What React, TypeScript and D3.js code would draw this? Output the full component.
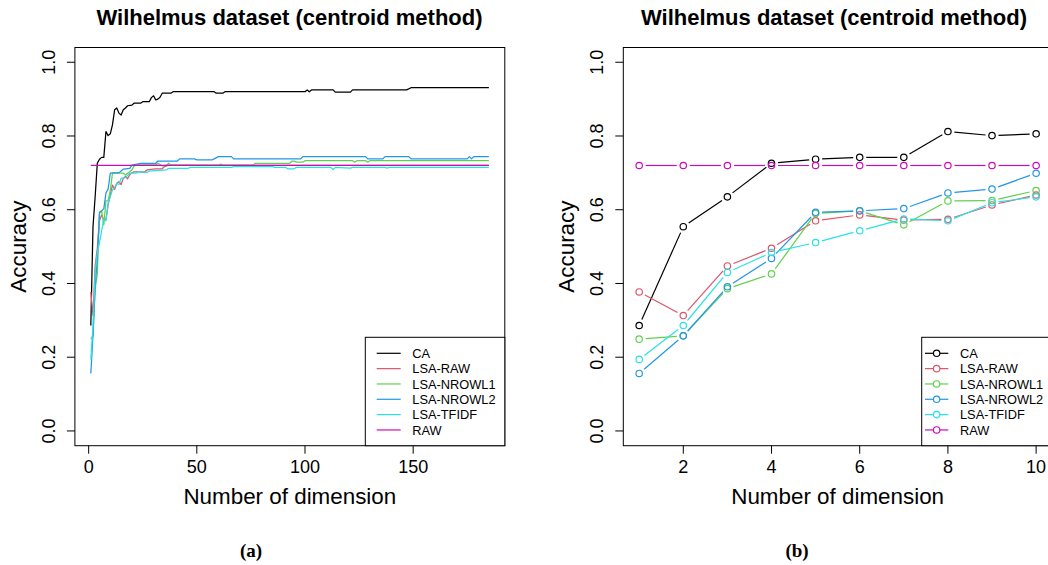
import React from "react";
import * as d3 from "d3";

const FONT = "'Liberation Sans', Arial, Helvetica, sans-serif";
const SERIF = "'Liberation Serif', 'DejaVu Serif', serif";

const TITLE = "Wilhelmus dataset (centroid method)";
const X_LABEL = "Number of dimension";
const Y_LABEL = "Accuracy";

const SERIES_NAMES = ["CA", "LSA-RAW", "LSA-NROWL1", "LSA-NROWL2", "LSA-TFIDF", "RAW"];
const COLORS = ["#000000", "#DF536B", "#61D04F", "#2297E6", "#28E2E5", "#CD0BBC"];

const Y_TICKS = [0, 0.2, 0.4, 0.6, 0.8, 1.0];
const X_TICKS_A = [0, 50, 100, 150];
const X_TICKS_B = [2, 4, 6, 8, 10];

// ---- panel (b): dimensions 1..10
const DIMS_B = [1, 2, 3, 4, 5, 6, 7, 8, 9, 10];
const CA_B = [0.286, 0.554, 0.635, 0.726, 0.737, 0.742, 0.742, 0.812, 0.801, 0.806];
const LSA_RAW_B = [0.377, 0.313, 0.4475, 0.4955, 0.57, 0.586, 0.572, 0.574, 0.613, 0.64];
const LSA_NROWL1_B = [0.249, 0.258, 0.386, 0.426, 0.59, 0.597, 0.559, 0.624, 0.625, 0.652];
const LSA_NROWL2_B = [0.156, 0.258, 0.391, 0.468, 0.593, 0.597, 0.603, 0.6455, 0.656, 0.699];
const LSA_TFIDF_B = [0.194, 0.286, 0.43, 0.484, 0.511, 0.543, 0.575, 0.57, 0.619, 0.635];
const RAW_B = [0.72, 0.72, 0.72, 0.72, 0.72, 0.72, 0.72, 0.72, 0.72, 0.72];

// ---- panel (a): dimensions 1..185, [dimension, accuracy] read where the curve changes
const CA_A: [number, number][] = [
  [1, 0.286], [2, 0.554], [3, 0.635], [4, 0.726], [5, 0.737], [6, 0.742], [7, 0.742], [8, 0.812],
  [9, 0.801], [10, 0.806], [11, 0.83], [12, 0.871], [13, 0.876], [14, 0.862], [15, 0.857], [16, 0.871],
  [17, 0.876], [18, 0.882], [20, 0.884], [21, 0.889], [24, 0.889], [25, 0.893], [28, 0.893], [29, 0.904],
  [30, 0.909], [31, 0.898], [32, 0.9], [33, 0.905], [34, 0.916], [38, 0.916], [39, 0.92], [58, 0.92],
  [59, 0.916], [62, 0.916], [63, 0.92], [100, 0.92], [101, 0.925], [102, 0.92], [103, 0.925], [113, 0.925],
  [114, 0.919], [121, 0.919], [122, 0.925], [147, 0.925], [149, 0.931], [185, 0.931],
];
const LSA_RAW_A: [number, number][] = [
  [1, 0.377], [2, 0.313], [3, 0.4475], [4, 0.4955], [5, 0.57], [6, 0.586], [7, 0.572], [8, 0.574],
  [9, 0.613], [10, 0.64], [11, 0.667], [12, 0.655], [13, 0.672], [14, 0.676], [15, 0.668], [16, 0.685],
  [17, 0.69], [18, 0.684], [19, 0.695], [20, 0.7], [21, 0.703], [26, 0.703], [27, 0.708], [31, 0.711],
  [34, 0.711], [35, 0.717], [37, 0.721], [57, 0.72], [185, 0.72],
];
const LSA_NROWL1_A: [number, number][] = [
  [1, 0.249], [2, 0.258], [3, 0.386], [4, 0.426], [5, 0.59], [6, 0.597], [7, 0.559], [8, 0.624],
  [9, 0.625], [10, 0.652], [11, 0.699], [16, 0.699], [17, 0.694], [18, 0.699], [20, 0.708], [21, 0.719],
  [23, 0.7214], [31, 0.7214], [32, 0.726], [34, 0.719], [36, 0.721], [37, 0.726], [38, 0.721], [60, 0.721],
  [61, 0.724], [62, 0.721], [76, 0.721], [77, 0.726], [93, 0.726], [94, 0.732], [95, 0.732], [96, 0.729],
  [99, 0.729], [100, 0.733], [122, 0.733], [123, 0.729], [124, 0.733], [128, 0.733], [129, 0.729], [130, 0.733],
  [185, 0.733],
];
const LSA_NROWL2_A: [number, number][] = [
  [1, 0.156], [2, 0.258], [3, 0.391], [4, 0.468], [5, 0.593], [6, 0.597], [7, 0.603], [8, 0.6455],
  [9, 0.656], [10, 0.699], [11, 0.7], [14, 0.7], [15, 0.705], [16, 0.71], [19, 0.712], [20, 0.721],
  [24, 0.726], [31, 0.726], [32, 0.732], [41, 0.732], [42, 0.738], [49, 0.738], [50, 0.735], [57, 0.735],
  [58, 0.738], [60, 0.744], [66, 0.744], [67, 0.738], [98, 0.738], [99, 0.744], [128, 0.744], [129, 0.738],
  [136, 0.738], [137, 0.744], [148, 0.744], [149, 0.738], [175, 0.738], [176, 0.744], [177, 0.738], [178, 0.744],
  [185, 0.744],
];
const LSA_TFIDF_A: [number, number][] = [
  [1, 0.194], [2, 0.286], [3, 0.43], [4, 0.484], [5, 0.511], [6, 0.543], [7, 0.575], [8, 0.57],
  [9, 0.619], [10, 0.635], [11, 0.654], [12, 0.66], [13, 0.672], [14, 0.668], [15, 0.685], [17, 0.687],
  [19, 0.699], [22, 0.699], [23, 0.703], [27, 0.701], [28, 0.705], [36, 0.708], [37, 0.7125], [46, 0.7125],
  [47, 0.715], [66, 0.715], [67, 0.717], [85, 0.717], [86, 0.715], [91, 0.715], [92, 0.711], [95, 0.711],
  [96, 0.715], [112, 0.715], [113, 0.709], [114, 0.715], [121, 0.713], [122, 0.715], [137, 0.715], [138, 0.713],
  [139, 0.715], [185, 0.715],
];
const RAW_A: [number, number][] = [[1, 0.72], [185, 0.72]];

const SERIES_A = [CA_A, LSA_RAW_A, LSA_NROWL1_A, LSA_NROWL2_A, LSA_TFIDF_A, RAW_A];
const SERIES_B = [CA_B, LSA_RAW_B, LSA_NROWL1_B, LSA_NROWL2_B, LSA_TFIDF_B, RAW_B];

// R-style 4% axis expansion
function rDomain(lo: number, hi: number): [number, number] {
  const d = (hi - lo) * 0.04;
  return [lo - d, hi + d];
}

const PLOT_TOP = 47.5;
const PLOT_BOTTOM = 445.7;
const yScale = d3.scaleLinear().domain(rDomain(0, 1)).range([PLOT_BOTTOM, PLOT_TOP]);
const xA = d3.scaleLinear().domain(rDomain(1, 185)).range([74.9, 504.8]);
const xB = d3.scaleLinear().domain(rDomain(1, 10)).range([623.3, 1052]);

function Axes({ xs, xTicks, titleX }: { xs: d3.ScaleLinear<number, number>; xTicks: number[]; titleX: number }) {
  const [x0, x1] = xs.range();
  const y0 = PLOT_BOTTOM;
  const y1 = PLOT_TOP;
  const cx = (x0 + x1) / 2;
  return (
    <g fontFamily={FONT} fill="#000">
      <rect x={x0} y={y1} width={x1 - x0} height={y0 - y1} fill="none" stroke="#000" strokeWidth={1} />
      {xTicks.map((t) => (
        <g key={"x" + t}>
          <line x1={xs(t)} x2={xs(t)} y1={y0} y2={y0 + 8} stroke="#000" strokeWidth={1} />
          <text x={xs(t)} y={y0 + 27.3} textAnchor="middle" fontSize={18}>
            {t}
          </text>
        </g>
      ))}
      {Y_TICKS.map((t) => (
        <g key={"y" + t}>
          <line x1={x0 - 8} x2={x0} y1={yScale(t)} y2={yScale(t)} stroke="#000" strokeWidth={1} />
          <text
            transform={`translate(${x0 - 20},${yScale(t)}) rotate(-90)`}
            textAnchor="middle"
            fontSize={18}
          >
            {t.toFixed(1)}
          </text>
        </g>
      ))}
      <text x={titleX} y={25} textAnchor="middle" fontSize={22} fontWeight="bold">
        {TITLE}
      </text>
      <text x={cx} y={504} textAnchor="middle" fontSize={22.4}>
        {X_LABEL}
      </text>
      <text transform={`translate(${x0 - 49},${(y0 + y1) / 2}) rotate(-90)`} textAnchor="middle" fontSize={22.4}>
        {Y_LABEL}
      </text>
    </g>
  );
}

function Legend({ right, withPoints }: { right: number; withPoints: boolean }) {
  const width = withPoints ? 130.3 : 139.5;
  const left = right - width;
  const top = 337.3;
  const lineX0 = withPoints ? left + 3.3 : left + 11.4;
  const lineX1 = withPoints ? left + 26.6 : left + 35.4;
  const textX = withPoints ? left + 38.3 : left + 47;
  const mid = (lineX0 + lineX1) / 2;
  return (
    <g fontFamily={FONT}>
      <rect x={left} y={top} width={width} height={PLOT_BOTTOM - top} fill="#fff" stroke="#000" strokeWidth={1} />
      {SERIES_NAMES.map((name, i) => {
        const y = 353.3 + i * 15.33;
        return (
          <g key={name}>
            {withPoints ? (
              <>
                <line x1={lineX0} x2={mid - 3.3} y1={y} y2={y} stroke={COLORS[i]} strokeWidth={1.2} />
                <line x1={mid + 3.3} x2={lineX1} y1={y} y2={y} stroke={COLORS[i]} strokeWidth={1.2} />
                <circle cx={mid} cy={y} r={3.2} fill="none" stroke={COLORS[i]} strokeWidth={1.2} />
              </>
            ) : (
              <line x1={lineX0} x2={lineX1} y1={y} y2={y} stroke={COLORS[i]} strokeWidth={1.2} />
            )}
            <text x={textX} y={y} dy="0.36em" fontSize={12.8} fill="#000">
              {name}
            </text>
          </g>
        );
      })}
    </g>
  );
}

function gappedSegments(pts: [number, number][], gap: number) {
  const segs: [number, number, number, number][] = [];
  for (let i = 0; i < pts.length - 1; i++) {
    const [ax, ay] = pts[i];
    const [bx, by] = pts[i + 1];
    const dx = bx - ax;
    const dy = by - ay;
    const len = Math.hypot(dx, dy);
    if (len <= 2 * gap) continue;
    const ux = dx / len;
    const uy = dy / len;
    segs.push([ax + ux * gap, ay + uy * gap, bx - ux * gap, by - uy * gap]);
  }
  return segs;
}

export default function App() {
  return (
    <svg
      width={1048}
      height={565}
      viewBox="0 0 1048 565"
      style={{ position: "absolute", left: 0, top: 0, background: "#fff" }}
    >
      <rect x={0} y={0} width={1048} height={565} fill="#fff" />
      {/* panel (a) */}
      <g>
        {SERIES_A.map((s, i) => {
          const pts = s.map((d) => [xA(d[0]), yScale(d[1])] as [number, number]);
          return (
            <polyline
              key={SERIES_NAMES[i]}
              points={pts.map((p) => p.join(",")).join(" ")}
              fill="none"
              stroke={COLORS[i]}
              strokeWidth={1.25}
              strokeLinejoin="round"
            />
          );
        })}
        <Axes xs={xA} xTicks={X_TICKS_A} titleX={289.5} />
        <Legend right={xA.range()[1]} withPoints={false} />
      </g>
      {/* panel (b) */}
      <g>
        {SERIES_B.map((vals, i) => {
          const pts: [number, number][] = DIMS_B.map((d, k) => [xB(d), yScale(vals[k])]);
          return (
            <g key={SERIES_NAMES[i]} stroke={COLORS[i]} strokeWidth={1.2} fill="none">
              {gappedSegments(pts, 6.5).map((sg, k) => (
                <line key={k} x1={sg[0]} y1={sg[1]} x2={sg[2]} y2={sg[3]} />
              ))}
              {pts.map((p, k) => (
                <circle key={"c" + k} cx={p[0]} cy={p[1]} r={3.2} />
              ))}
            </g>
          );
        })}
        <Axes xs={xB} xTicks={X_TICKS_B} titleX={834} />
        <Legend right={xB.range()[1]} withPoints={true} />
      </g>
      <text x={251} y={557} textAnchor="middle" fontFamily={SERIF} fontWeight="bold" fontSize={19}>
        (a)
      </text>
      <text x={797} y={557} textAnchor="middle" fontFamily={SERIF} fontWeight="bold" fontSize={19}>
        (b)
      </text>
    </svg>
  );
}
